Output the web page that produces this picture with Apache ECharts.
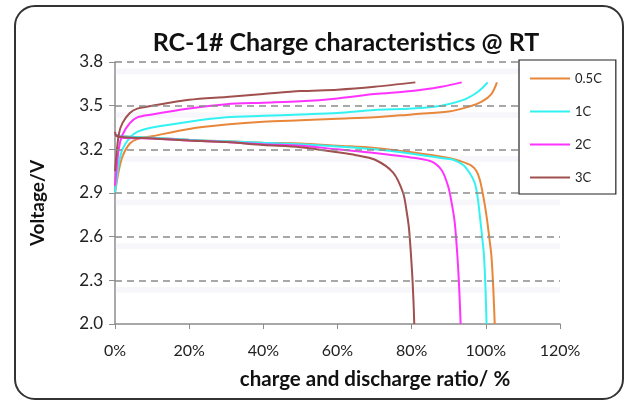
<!DOCTYPE html>
<html><head><meta charset="utf-8">
<script src="https://cdn.jsdelivr.net/npm/echarts@6/dist/echarts.min.js"></script>
<style>html,body{margin:0;padding:0;background:#fff}#c{width:630px;height:401px}</style>
</head><body><div id="c"></div>
<script>
// ---- data (x: charge/discharge ratio %, y: voltage V) ----
const seriesNames = ['0.5C', '1C', '2C', '3C'];
const yTicks = [2.0, 2.3, 2.6, 2.9, 3.2, 3.5, 3.8];
const xTicks = [0, 20, 40, 60, 80, 100, 120];

const charge05 = [[0,2.90],[1,3.05],[2,3.15],[4,3.24],[6,3.27],[10,3.29],[20,3.34],[30,3.37],[40,3.39],[50,3.40],[60,3.41],[70,3.42],[80,3.44],[90,3.46],[95,3.49],[99,3.53],[101.5,3.58],[103,3.66]];
const discharge05 = [[0,3.30],[2,3.29],[10,3.28],[20,3.265],[30,3.255],[40,3.245],[50,3.24],[60,3.225],[70,3.21],[80,3.18],[90,3.14],[93,3.12],[96,3.09],[97.5,3.05],[98.4,2.99],[99.3,2.88],[100.2,2.74],[101,2.58],[101.5,2.47],[102,2.25],[102.4,2.0]];

const charge1 = [[0,2.90],[1,3.10],[2,3.20],[4,3.28],[6,3.32],[10,3.35],[20,3.39],[30,3.42],[40,3.43],[50,3.44],[60,3.45],[70,3.47],[80,3.48],[88,3.50],[94,3.54],[97,3.58],[99,3.62],[100.5,3.66]];
const discharge1 = [[0,3.30],[2,3.29],[10,3.28],[20,3.265],[30,3.255],[40,3.245],[50,3.235],[60,3.22],[70,3.20],[80,3.17],[88,3.14],[91,3.13],[94,3.09],[95.8,3.03],[97,2.97],[97.8,2.87],[98.4,2.74],[99,2.60],[99.5,2.47],[99.9,2.25],[100.2,2.0]];

const charge2 = [[0,2.95],[1,3.20],[2,3.30],[4,3.38],[6,3.42],[10,3.44],[20,3.48],[30,3.51],[40,3.52],[50,3.53],[60,3.55],[70,3.58],[80,3.60],[88,3.63],[93.5,3.66]];
const discharge2 = [[0,3.30],[2,3.28],[10,3.275],[20,3.26],[30,3.25],[40,3.235],[50,3.225],[60,3.20],[70,3.175],[78,3.15],[85,3.12],[88,3.06],[89.8,2.95],[90.8,2.83],[91.6,2.70],[92.1,2.55],[92.5,2.40],[92.9,2.20],[93.2,2.0]];

const charge3 = [[0,3.05],[1,3.30],[2,3.38],[4,3.45],[6,3.48],[10,3.50],[20,3.54],[30,3.56],[40,3.58],[50,3.60],[60,3.61],[70,3.63],[81,3.66]];
const discharge3 = [[0,3.32],[0.5,3.29],[5,3.28],[10,3.275],[20,3.26],[30,3.25],[40,3.23],[50,3.215],[60,3.18],[65,3.16],[70,3.13],[75,3.04],[77.7,2.90],[78.6,2.78],[79.3,2.65],[80.1,2.36],[80.5,2.15],[80.7,2.0]];

const colors = ['#E8873A', '#33F2F2', '#FF33FF', '#A0504E'];
const curves = [[charge05, discharge05], [charge1, discharge1], [charge2, discharge2], [charge3, discharge3]];

const gridLevels = yTicks.slice(1);
const font = 'Lato, "Open Sans", sans-serif';

const series = [];
curves.forEach((pair, i) => {
  pair.forEach((d) => {
    series.push({
      name: seriesNames[i], type: 'line', data: d, showSymbol: false, symbol: 'none',
      smooth: 0.3, lineStyle: { width: 2, color: colors[i] }, itemStyle: { color: colors[i] },
      z: 3, animation: false
    });
  });
});
// gridlines and faint bands
series.push({
  type: 'line', data: [], silent: true, animation: false,
  markLine: {
    symbol: 'none', silent: true, label: { show: false }, animation: false,
    lineStyle: { type: [7, 5], color: '#8c8c8c', width: 1.5 },
    data: gridLevels.map(v => ({ yAxis: v }))
  },
  markArea: {
    silent: true, animation: false,
    itemStyle: { color: 'rgba(210,210,232,0.18)' },
    data: gridLevels.map(v => [{ yAxis: v - 0.045 }, { yAxis: v - 0.085 }])
  },
  z: 1
});

const chart = echarts.init(document.getElementById('c'), null, { renderer: 'canvas' });
chart.setOption({
  backgroundColor: '#fff',
  animation: false,
  color: colors,
  title: {
    text: 'RC-1# Charge characteristics @ RT', left: 341, top: 25, textAlign: 'center',
    textStyle: { fontFamily: font, fontWeight: 'bold', fontSize: 25, color: '#111' }
  },
  grid: { left: 115, right: 70, top: 62, bottom: 77, containLabel: false },
  xAxis: {
    type: 'value', min: 0, max: 120, interval: 20,
    name: 'charge and discharge ratio/ %', nameLocation: 'middle', nameGap: 45,
    nameTextStyle: { fontFamily: font, fontWeight: 'bold', fontSize: 20.5, color: '#111', padding: [0, 0, 0, 75] },
    axisLine: { show: true, lineStyle: { color: '#8c8c8c', width: 1.5 } },
    axisTick: { show: true, length: 5, lineStyle: { color: '#8c8c8c' } },
    axisLabel: { fontFamily: font, fontSize: 16, color: '#222', margin: 19, formatter: v => v + '%', customValues: xTicks },
    splitLine: { show: false }
  },
  yAxis: {
    type: 'value', min: 2.0, max: 3.8,
    name: 'Voltage/V', nameLocation: 'middle', nameGap: 68, nameRotate: 90,
    nameTextStyle: { fontFamily: font, fontWeight: 'bold', fontSize: 19, color: '#111', padding: [0, 20, 0, 0] },
    axisLine: { show: true, lineStyle: { color: '#8c8c8c', width: 1.5 } },
    axisTick: { show: true, length: 6, customValues: yTicks, lineStyle: { color: '#8c8c8c' } },
    axisLabel: { fontFamily: font, fontSize: 17, color: '#222', margin: 12, customValues: yTicks, formatter: v => v.toFixed(1) },
    splitLine: { show: false }
  },
  legend: {
    orient: 'vertical', left: 519, top: 60,
    data: seriesNames,
    itemWidth: 40, itemHeight: 14, itemGap: 20,
    padding: [12, 14, 10, 11],
    backgroundColor: '#fff', borderColor: '#222', borderWidth: 1.2,
    textStyle: { fontFamily: font, fontSize: 13, color: '#222' },
    icon: 'path://M0,6 L40,6 L40,8 L0,8 Z',
    z: 10
  },
  graphic: [{
    type: 'rect', shape: { x: 15, y: 6, width: 608, height: 393, r: 20 },
    style: { fill: 'none', stroke: '#333', lineWidth: 2 }, z: 100, silent: true
  }],
  series: series
});
</script></body></html>
